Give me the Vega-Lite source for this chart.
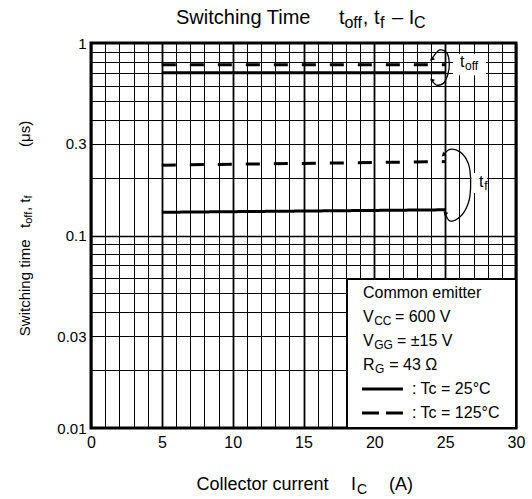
{
"$schema":"https://vega.github.io/schema/vega-lite/v6.json",
"autosize":"none",
"width":425,"height":385,
"padding":{"left":91,"top":43,"right":16,"bottom":71},
"background":"white",
"config":{"view":{"stroke":"black","strokeWidth":3},"font":"Liberation Sans","text":{"font":"Liberation Sans","color":"black"}},
"datasets":{
"curves":[
{"param":"toff","Tc":"25°C","x":5,"y":0.70},{"param":"toff","Tc":"25°C","x":25,"y":0.70},
{"param":"toff","Tc":"125°C","x":5,"y":0.77},{"param":"toff","Tc":"125°C","x":25,"y":0.77},
{"param":"tf","Tc":"25°C","x":5,"y":0.132},{"param":"tf","Tc":"25°C","x":25,"y":0.136},
{"param":"tf","Tc":"125°C","x":5,"y":0.232},{"param":"tf","Tc":"125°C","x":25,"y":0.242}
],
"brackets":[
{"b":"toff","i":1,"x":24.05,"y":0.823},{"b":"toff","i":2,"x":24.63,"y":0.92},{"b":"toff","i":3,"x":25.11,"y":0.89},{"b":"toff","i":4,"x":25.29,"y":0.784},{"b":"toff","i":5,"x":25.18,"y":0.682},{"b":"toff","i":6,"x":24.87,"y":0.617},{"b":"toff","i":7,"x":24.4,"y":0.605},{"b":"toff","i":8,"x":24.05,"y":0.642},
{"b":"tf","i":1,"x":24.87,"y":0.262},{"b":"tf","i":2,"x":25.34,"y":0.28},{"b":"tf","i":3,"x":26.05,"y":0.272},{"b":"tf","i":4,"x":26.63,"y":0.237},{"b":"tf","i":5,"x":26.8,"y":0.187},{"b":"tf","i":6,"x":26.63,"y":0.147},{"b":"tf","i":7,"x":26.05,"y":0.125},{"b":"tf","i":8,"x":25.34,"y":0.119},{"b":"tf","i":9,"x":24.99,"y":0.131}
],
"arrows":[
{"end":"upper","x":24.05,"y":0.823},{"end":"lower","x":24.05,"y":0.642},{"end":"upper","x":24.87,"y":0.262},{"end":"lower","x":24.99,"y":0.131}
],
"boxes":[
{"x":25.55,"x2":27.88,"y":0.88,"y2":0.68},{"x":26.85,"x2":27.95,"y":0.211,"y2":0.166}
],
"legendbox":[{"x":18.07,"x2":30,"y":0.0594,"y2":0.01}],
"samples":[{"Tc":"25°C","x":19.13,"y":0.01595},{"Tc":"25°C","x":22.02,"y":0.01595},{"Tc":"125°C","x":19.13,"y":0.01197},{"Tc":"125°C","x":22.02,"y":0.01197}],
"texts":[
{"kind":"title","t":"Switching Time","x":6.0,"y":1.35},
{"kind":"title","t":"t","x":17.5,"y":1.35},
{"kind":"tsub","t":"off","x":17.89,"y":1.35},
{"kind":"title","t":", t","x":19.19,"y":1.35},
{"kind":"tsub","t":"f","x":20.4,"y":1.35},
{"kind":"title","t":"– I","x":21.25,"y":1.35},
{"kind":"tsub","t":"C","x":22.8,"y":1.35},
{"kind":"xt","t":"Collector current","x":7.45,"y":0.00506},
{"kind":"xt","t":"I","x":18.35,"y":0.00506},
{"kind":"xtsub","t":"C","x":18.78,"y":0.00506},
{"kind":"xt","t":"(A)","x":21.03,"y":0.00506},
{"kind":"main","t":"Common emitter","x":19.2,"y":0.0503},
{"kind":"main","t":"V","x":19.2,"y":0.0377},
{"kind":"sub","t":"CC","x":19.99,"y":0.0377},
{"kind":"main","t":"= 600 V","x":21.45,"y":0.0377},
{"kind":"main","t":"V","x":19.2,"y":0.0283},
{"kind":"sub","t":"GG","x":19.99,"y":0.0283},
{"kind":"main","t":"= ±15 V","x":21.6,"y":0.0283},
{"kind":"main","t":"R","x":19.2,"y":0.02124},
{"kind":"sub","t":"G","x":20.05,"y":0.02124},
{"kind":"main","t":"= 43 Ω","x":21.05,"y":0.02124},
{"kind":"main","t":": Tc = 25°C","x":22.66,"y":0.01595},
{"kind":"main","t":": Tc = 125°C","x":22.66,"y":0.01197},
{"kind":"main","t":"t","x":26.05,"y":0.80},
{"kind":"sub","t":"off","x":26.4,"y":0.80},
{"kind":"main","t":"t","x":27.39,"y":0.19},
{"kind":"sub","t":"f","x":27.75,"y":0.19},
{"kind":"vmain","t":"Switching time","x":-4.66,"y":0.030},
{"kind":"vmain","t":"t","x":-4.66,"y":0.1094},
{"kind":"vsub","t":"off","x":-4.66,"y":0.115},
{"kind":"vmain","t":", t","x":-4.66,"y":0.134},
{"kind":"vsub","t":"f","x":-4.66,"y":0.1557},
{"kind":"vmain","t":"(μs)","x":-4.66,"y":0.2883}
]
},
"encoding":{
"x":{"field":"x","type":"quantitative","scale":{"domain":[0,30],"nice":false,"zero":false},
 "axis":{"values":[0,1,2,3,4,5,6,7,8,9,10,11,12,13,14,15,16,17,18,19,20,21,22,23,24,25,26,27,28,29,30],
 "labelExpr":"datum.value % 5 === 0 ? datum.label : ''","title":null,"grid":true,"gridColor":"black","gridOpacity":1,
 "gridWidth":{"condition":{"test":"datum.value % 5 === 0","value":1.8},"value":1},
 "ticks":false,"domain":false,"labelFontSize":16,"labelColor":"black","labelPadding":6,"labelOverlap":false,"labelFlush":false,"labelFont":"Liberation Sans"}},
"y":{"field":"y","type":"quantitative","scale":{"type":"log","domain":[0.01,1],"nice":false},
 "axis":{"values":[0.01,0.02,0.03,0.04,0.05,0.06,0.07,0.08,0.09,0.1,0.2,0.3,0.4,0.5,0.6,0.7,0.8,0.9,1],
 "labelExpr":"indexof([1,0.3,0.1,0.03,0.01], datum.value) >= 0 ? format(datum.value, '~g') : ''","title":null,"grid":true,"gridColor":"black","gridOpacity":1,
 "gridWidth":{"condition":{"test":"datum.value === 0.1","value":1.6},"value":1},
 "ticks":false,"domain":false,"labelFontSize":15,"labelColor":"black","labelPadding":5,"labelOverlap":false,"labelFlush":false,"labelFont":"Liberation Sans"}}
},
"layer":[
{"data":{"name":"legendbox"},"mark":{"type":"rect","fill":"white","stroke":"black","strokeWidth":2},"encoding":{"x2":{"field":"x2"},"y2":{"field":"y2"}}},
{"data":{"name":"boxes"},"mark":{"type":"rect","fill":"white"},"encoding":{"x2":{"field":"x2"},"y2":{"field":"y2"}}},
{"data":{"name":"curves"},"mark":{"type":"line","color":"black","strokeWidth":3,"strokeCap":"butt"},
 "encoding":{"detail":{"field":"param"},"strokeDash":{"field":"Tc","type":"nominal","scale":{"domain":["25°C","125°C"],"range":[[1,0],[14,14]]},"legend":null}}},
{"data":{"name":"brackets"},"mark":{"type":"line","color":"black","strokeWidth":1.3,"interpolate":"catmull-rom"},
 "encoding":{"detail":{"field":"b"},"order":{"field":"i","type":"quantitative"}}},
{"data":{"name":"arrows"},"transform":[{"filter":"datum.end === 'upper'"}],"mark":{"type":"point","shape":"triangle-down","angle":45,"filled":true,"color":"black","size":25,"opacity":1},"encoding":{}},
{"data":{"name":"arrows"},"transform":[{"filter":"datum.end === 'lower'"}],"mark":{"type":"point","shape":"triangle-up","angle":-45,"filled":true,"color":"black","size":25,"opacity":1},"encoding":{}},
{"data":{"name":"samples"},"transform":[{"filter":"datum.Tc === '25°C'"}],"mark":{"type":"line","color":"black","strokeWidth":3},"encoding":{}},
{"data":{"name":"samples"},"transform":[{"filter":"datum.Tc === '125°C'"}],"mark":{"type":"line","color":"black","strokeWidth":3,"strokeDash":[17,7],"strokeCap":"butt"},"encoding":{}},
{"data":{"name":"texts"},"transform":[{"filter":"datum.kind === 'title'"}],"mark":{"type":"text","align":"left","baseline":"middle","fontSize":20},"encoding":{"text":{"field":"t"}}},
{"data":{"name":"texts"},"transform":[{"filter":"datum.kind === 'tsub'"}],"mark":{"type":"text","align":"left","baseline":"middle","fontSize":16,"dy":5},"encoding":{"text":{"field":"t"}}},
{"data":{"name":"texts"},"transform":[{"filter":"datum.kind === 'xt'"}],"mark":{"type":"text","align":"left","baseline":"middle","fontSize":18},"encoding":{"text":{"field":"t"}}},
{"data":{"name":"texts"},"transform":[{"filter":"datum.kind === 'xtsub'"}],"mark":{"type":"text","align":"left","baseline":"middle","fontSize":14,"dy":5},"encoding":{"text":{"field":"t"}}},
{"data":{"name":"texts"},"transform":[{"filter":"datum.kind === 'main'"}],"mark":{"type":"text","align":"left","baseline":"middle","fontSize":16},"encoding":{"text":{"field":"t"}}},
{"data":{"name":"texts"},"transform":[{"filter":"datum.kind === 'sub'"}],"mark":{"type":"text","align":"left","baseline":"middle","fontSize":12,"dy":4},"encoding":{"text":{"field":"t"}}},
{"data":{"name":"texts"},"transform":[{"filter":"datum.kind === 'vmain'"}],"mark":{"type":"text","align":"left","baseline":"middle","fontSize":15,"angle":270},"encoding":{"text":{"field":"t"}}},
{"data":{"name":"texts"},"transform":[{"filter":"datum.kind === 'vsub'"}],"mark":{"type":"text","align":"left","baseline":"middle","fontSize":11,"angle":270,"dy":4},"encoding":{"text":{"field":"t"}}}
]
}
